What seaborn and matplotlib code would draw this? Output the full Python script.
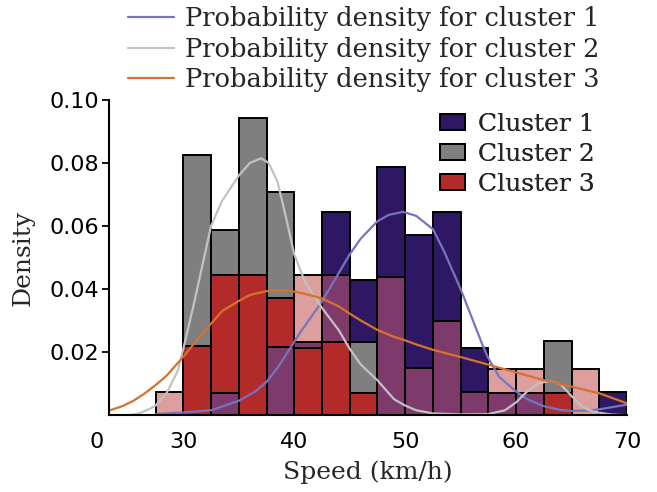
import numpy as np
import pandas as pd
import matplotlib
matplotlib.use("Agg")
import matplotlib.pyplot as plt
import matplotlib.transforms as mtransforms
from matplotlib.patches import Patch
import seaborn as sns

# ---------------- data ----------------
bin_left = [27.5, 30.0, 32.5, 35.0, 37.5, 40.0, 42.5, 45.0, 47.5,
            50.0, 52.5, 55.0, 57.5, 60.0, 62.5, 65.0, 67.5]
bin_width = 2.5
cluster1 = [0.0, 0.0, 0.0071, 0.0, 0.0215, 0.0233, 0.0643, 0.0427, 0.0788,
            0.0570, 0.0643, 0.0213, 0.0071, 0.0071, 0.0, 0.0, 0.0073]
cluster2 = [0.0, 0.0825, 0.0588, 0.0943, 0.0708, 0.0212, 0.0233, 0.0233, 0.0,
            0.0, 0.0, 0.0, 0.0, 0.0, 0.0235, 0.0, 0.0]
cluster3 = [0.0074, 0.0219, 0.0443, 0.0443, 0.0371, 0.0443, 0.0443, 0.0070, 0.0438,
            0.0150, 0.0297, 0.0073, 0.0145, 0.0145, 0.0071, 0.0145, 0.0]

kde1_x = [27.5, 30, 32.5, 35, 36.5, 37.5, 38.5, 39.6, 40.5, 41.5, 42.5, 44, 45, 46,
          47.5, 48.5, 49.8, 51, 52.5, 53.5, 54.5, 55, 56, 57, 57.5, 58.5, 60, 61,
          62.5, 64, 65, 66.5, 67.5, 69, 70]
kde1_y = [0.0003, 0.0008, 0.0015, 0.0045, 0.0075, 0.0105, 0.015, 0.021, 0.026, 0.031,
          0.036, 0.045, 0.051, 0.056, 0.0615, 0.0635, 0.0645, 0.0632, 0.059, 0.052,
          0.044, 0.040, 0.031, 0.022, 0.018, 0.012, 0.0075, 0.005, 0.0028, 0.0016,
          0.0013, 0.0014, 0.0018, 0.0027, 0.0033]

kde2_x = [25.3, 26, 27, 27.5, 28.5, 29.5, 30, 31, 32, 32.5, 33.5, 35, 36, 37, 37.7,
          38.5, 39.3, 40, 41, 42.5, 44, 45, 46, 47.5, 49, 50, 51, 52.5, 55, 57.5,
          59, 60, 61, 62, 63, 64, 65, 66, 67, 68.5, 69.5]
kde2_y = [0.0, 0.0005, 0.002, 0.003, 0.007, 0.014, 0.021, 0.036, 0.052, 0.060, 0.068,
          0.076, 0.080, 0.0815, 0.080, 0.074, 0.062, 0.051, 0.042, 0.034, 0.027,
          0.021, 0.016, 0.011, 0.005, 0.003, 0.0015, 0.0005, 0.0002, 0.0003, 0.0015,
          0.004, 0.0075, 0.010, 0.0108, 0.0098, 0.006, 0.0025, 0.001, 0.0002, 0.0]

kde3_x = [23.3, 24.5, 25.5, 26.5, 27.5, 28.5, 30, 31, 32.5, 33.5, 35, 36, 37.5, 38.5,
          39.5, 40.5, 41.5, 42.5, 44, 45, 46, 47.5, 49, 50, 51, 52.5, 55, 57.5, 60,
          62.5, 65, 67.5, 70]
kde3_y = [0.0014, 0.0028, 0.0045, 0.0068, 0.0095, 0.0125, 0.0185, 0.0228, 0.029,
          0.033, 0.0362, 0.0381, 0.0393, 0.0396, 0.0395, 0.0388, 0.038, 0.037, 0.0345,
          0.0322, 0.030, 0.027, 0.0248, 0.0237, 0.0224, 0.0207, 0.0184, 0.016, 0.0135,
          0.0111, 0.009, 0.0069, 0.0037]

cluster_labels = ["Cluster 1", "Cluster 2", "Cluster 3"]
kde_labels = ["Probability density for cluster 1",
              "Probability density for cluster 2",
              "Probability density for cluster 3"]
x_ticks = [30, 40, 50, 60, 70]
y_ticks = [0.02, 0.04, 0.06, 0.08, 0.10]
x_min_label = "0"

# ---------------- style ----------------
NAVY = "#2e1863"
GRAY = "#7f7f7f"
RED_ON_GRAY = "#b22a2a"
RED_ON_NAVY = "#7d3a6b"
RED_ALONE = "#dd9e9e"
KDE_COLORS = ["#7474c0", "#c2c2c2", "#d8712c"]
EDGE_LW = 1.4

sns.set_theme(style="white")
plt.rcParams["font.family"] = ["DejaVu Serif"]

fig = plt.figure(figsize=(6.57, 4.92), dpi=100)
ax = fig.add_axes([109 / 657, 1 - 415 / 492, 518 / 657, 315 / 492])

c1 = np.array(cluster1)
c2 = np.array(cluster2)
c3 = np.array(cluster3)
edges = list(np.append(bin_left, bin_left[-1] + bin_width))
centers = np.array(bin_left) + bin_width / 2
navy_taller = c1 >= c2
hi = np.maximum(c1, c2)
lo = np.minimum(c1, c2)


def layer(weights, color):
    df = pd.DataFrame({"speed": centers, "w": np.asarray(weights, dtype=float)})
    sns.histplot(data=df, x="speed", weights="w", bins=edges, stat="count",
                 color=color, alpha=1, edgecolor="black", linewidth=EDGE_LW,
                 ax=ax)


# taller of cluster 1 / cluster 2 first, then the shorter one on top
layer(np.where(navy_taller, c1, 0), NAVY)
layer(np.where(~navy_taller, c2, 0), GRAY)
layer(np.where(~navy_taller, c1, 0), NAVY)
layer(np.where(navy_taller, c2, 0), GRAY)
# cluster 3 on top: pink over white, purple over navy, red over gray
layer(c3, RED_ALONE)
over_hi = np.minimum(c3, hi)
layer(np.where(navy_taller, over_hi, 0), RED_ON_NAVY)
layer(np.where(~navy_taller, over_hi, 0), RED_ON_GRAY)
over_lo = np.minimum(c3, lo)
layer(np.where(navy_taller, over_lo, 0), RED_ON_GRAY)
layer(np.where(~navy_taller, over_lo, 0), RED_ON_NAVY)

line_handles = []
for kx, ky, col, lab in zip([kde1_x, kde2_x, kde3_x], [kde1_y, kde2_y, kde3_y],
                            KDE_COLORS, kde_labels):
    sns.lineplot(x=kx, y=ky, color=col, linewidth=1.6, ax=ax, label=lab,
                 legend=False)
    line_handles.append(ax.get_lines()[-1])

# ---------------- axes ----------------
x_left = 23.3
ax.set_xlim(x_left, 70)
ax.set_ylim(0, 0.10)
ax.set_xticks([x_left] + x_ticks)
ax.set_xticklabels([x_min_label] + [str(t) for t in x_ticks],
                   fontsize=16, family="DejaVu Sans")
ax.set_yticks(y_ticks)
ax.set_yticklabels([f"{t:.2f}" for t in y_ticks], fontsize=16, family="DejaVu Sans")
ax.tick_params(axis="x", length=0, pad=12, colors="black")
ax.tick_params(axis="y", length=5, width=1.3, pad=2, colors="black", direction="out")
ax.yaxis.set_ticks_position("left")
for lab in ax.get_xticklabels()[:1]:
    lab.set_transform(lab.get_transform() +
                      mtransforms.ScaledTranslation(-0.12, 0, fig.dpi_scale_trans))
for s in ["top", "right"]:
    ax.spines[s].set_visible(False)
for s in ["left", "bottom"]:
    ax.spines[s].set_color("black")
    ax.spines[s].set_linewidth(1.5)
ax.grid(False)

ax.set_xlabel("Speed (km/h)", fontsize=18)
ax.set_ylabel("Density", fontsize=18)
ax.xaxis.set_label_coords(0.5, -0.145)
ax.yaxis.set_label_coords(-0.143, 0.5)

# ---------------- legends ----------------
patch_handles = [Patch(facecolor=c, edgecolor="black", linewidth=EDGE_LW)
                 for c in [NAVY, GRAY, RED_ON_GRAY]]
leg2 = ax.legend(patch_handles, cluster_labels, loc="upper left",
                 bbox_to_anchor=(440 / 657, 1 - 113 / 492),
                 bbox_transform=fig.transFigure, frameon=False, fontsize=18,
                 handlelength=1.0, handleheight=0.6, handletextpad=0.5,
                 labelspacing=0.28, borderpad=0, borderaxespad=0)
ax.add_artist(leg2)

fig.legend(line_handles, kde_labels, loc="upper left",
           bbox_to_anchor=(128 / 657, 1 - 6 / 492), frameon=False, fontsize=18.5,
           handlelength=1.8, handletextpad=0.4, labelspacing=0.22,
           borderpad=0, borderaxespad=0)

fig.savefig("out.png", dpi=100)
